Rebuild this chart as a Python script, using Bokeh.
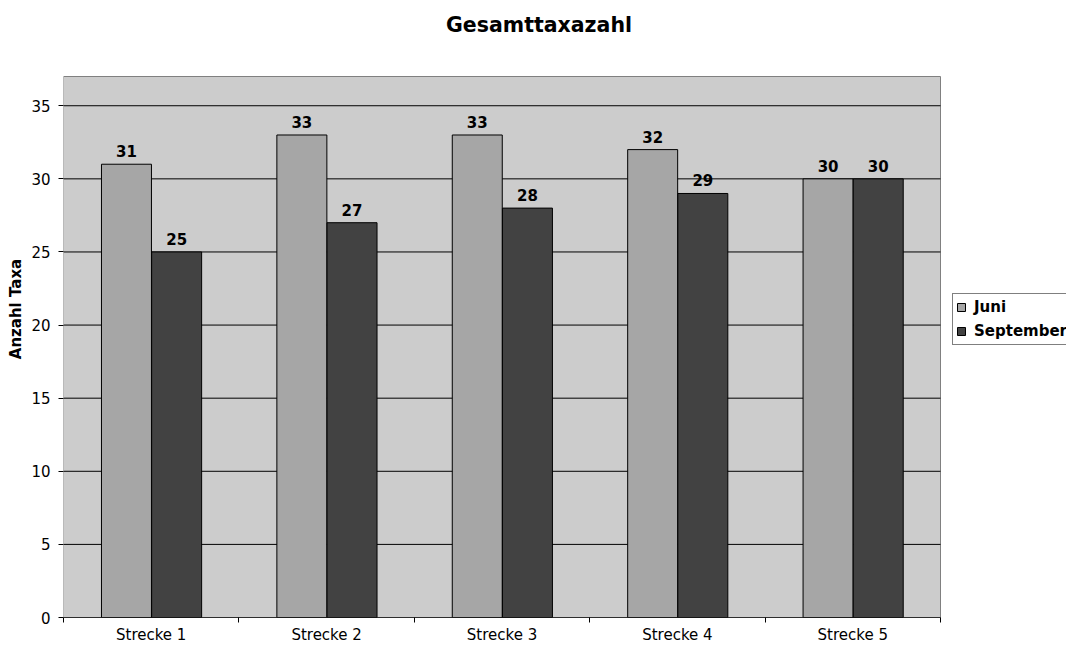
from bokeh.plotting import figure
from bokeh.models import ColumnDataSource, FixedTicker, Range1d, Legend, LegendItem, Label
from bokeh.transform import dodge
from bokeh.core.properties import value
from bokeh.embed import file_html
from bokeh.resources import INLINE

categories = ["Strecke 1", "Strecke 2", "Strecke 3", "Strecke 4", "Strecke 5"]
juni = [31, 33, 33, 32, 30]
september = [25, 27, 28, 29, 30]
y_ticks = [0, 5, 10, 15, 20, 25, 30, 35]
y_max = 37
series_names = ["Juni", "September"]
chart_title = "Gesamttaxazahl"
y_label = "Anzahl Taxa"

FONT = "DejaVu Sans"
C_JUNI = "#a6a6a6"
C_SEPT = "#424242"
C_AREA = "#cccccc"

W, H = 1066, 646
LEFT, BOTTOM = 63, 29
AREA_W = 877   # plot-area width in px (frame extends further right for the legend)
AREA_H = 541   # plot-area height in px (frame extends further up for the title)
n = len(categories)
x_end = n * (W - LEFT) / AREA_W
y_end = y_max * (H - BOTTOM) / AREA_H

centers = [i + 0.5 for i in range(n)]
src = ColumnDataSource(dict(x=centers, juni=juni, sept=september,
                            juni_t=[str(v) for v in juni], sept_t=[str(v) for v in september]))

p = figure(width=W, height=H, output_backend="svg", toolbar_location=None,
           x_range=Range1d(0, x_end), y_range=Range1d(0, y_end),
           min_border_left=LEFT, min_border_right=0, min_border_top=0, min_border_bottom=BOTTOM)
p.title.visible = False
p.background_fill_color = "white"
p.border_fill_color = "white"
p.outline_line_color = None

# plot area
p.quad(left=[0], right=[n], bottom=[0], top=[y_max], fill_color=C_AREA,
       line_color="#808080", line_width=1)
# horizontal gridlines
p.segment(x0=[0] * len(y_ticks), x1=[n] * len(y_ticks), y0=y_ticks, y1=y_ticks,
          line_color="black", line_width=1)

bw = 0.285
x_j = dodge("x", -0.141, range=p.x_range)
x_s = dodge("x", 0.145, range=p.x_range)
r1 = p.vbar(x=x_j, top="juni", width=bw, source=src,
            fill_color=C_JUNI, line_color="black", line_width=1)
r2 = p.vbar(x=x_s, top="sept", width=bw, source=src,
            fill_color=C_SEPT, line_color="black", line_width=1)

for xx, col, tcol in ((x_j, "juni", "juni_t"), (x_s, "sept", "sept_t")):
    p.text(x=xx, y=col, text=tcol, source=src,
           text_font=value(FONT), text_font_style="bold", text_font_size="15px",
           text_align="center", text_baseline="middle", y_offset=-13, text_color="black")

p.xgrid.visible = False
p.ygrid.visible = False

# x axis
xa = p.xaxis[0]
xa.ticker = FixedTicker(ticks=centers, minor_ticks=list(range(n + 1)))
xa.major_label_overrides = {c: lab for c, lab in zip(centers, categories)}
xa.major_tick_out = 0
xa.major_tick_in = 0
xa.minor_tick_out = 5
xa.minor_tick_in = 0
xa.minor_tick_line_color = "black"
xa.axis_line_color = None
xa.major_label_standoff = 3
xa.major_label_text_font = FONT
xa.major_label_text_font_size = "15px"
xa.major_label_text_color = "black"
p.segment(x0=[0], x1=[n], y0=[0], y1=[0], line_color="black", line_width=1)

# y axis
ya = p.yaxis[0]
ya.ticker = FixedTicker(ticks=y_ticks)
ya.major_tick_out = 5
ya.major_tick_in = 0
ya.minor_tick_line_color = None
ya.major_tick_line_color = "black"
ya.axis_line_color = None
ya.major_label_standoff = 8
ya.major_label_text_font = FONT
ya.major_label_text_font_size = "15px"
ya.major_label_text_color = "black"
ya.axis_label = y_label
ya.axis_label_text_font = FONT
ya.axis_label_text_font_style = "bold"
ya.axis_label_text_font_size = "15px"
ya.axis_label_text_color = "black"
ya.axis_label_standoff = 3

# title (inside the extended frame, above the plot area)
p.add_layout(Label(x=475.5, y=593, x_units="screen", y_units="screen", text=chart_title,
                   text_font=FONT, text_font_style="bold", text_font_size="20.5px",
                   text_align="center", text_baseline="middle", text_color="black"))

# legend
legend = Legend(items=[LegendItem(label=series_names[0], renderers=[r1]),
                       LegendItem(label=series_names[1], renderers=[r2])],
                location=(AREA_W + 12, 272), orientation="vertical")
legend.label_text_font = FONT
legend.label_text_font_style = "bold"
legend.label_text_font_size = "15px"
legend.label_text_color = "black"
legend.glyph_width = 10
legend.glyph_height = 10
legend.label_height = 20
legend.label_standoff = 8
legend.spacing = 4
legend.padding = 3
legend.margin = 0
legend.border_line_color = "black"
legend.border_line_width = 1
legend.background_fill_color = "white"
legend.background_fill_alpha = 1
p.add_layout(legend, "center")

open("out.html", "w").write(file_html(p, INLINE))
